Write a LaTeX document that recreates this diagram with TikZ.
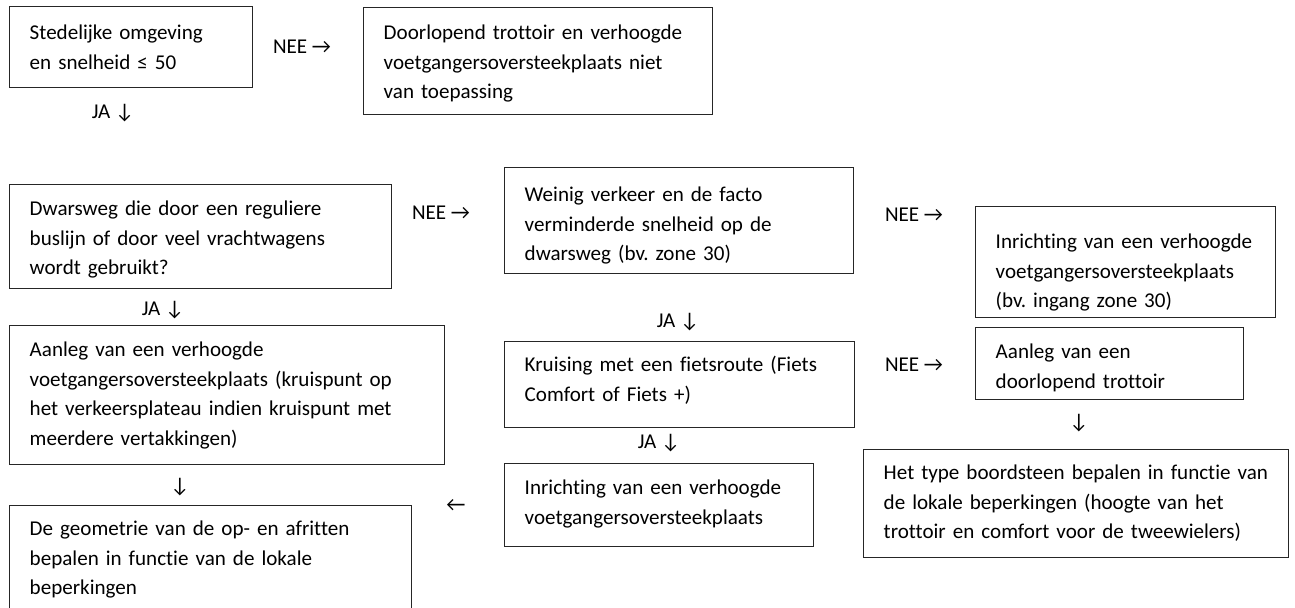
\documentclass[tikz,border=0pt]{standalone}
\usepackage{fontspec}
\setmainfont{Carlito}[Ligatures=NoCommon]
\frenchspacing
\begin{document}
\begin{tikzpicture}
    [
    x=0.75pt, y=-0.75pt,
    box/.style={draw=black!85,line width=1.1pt,anchor=north west,align=left,inner xsep=15pt,inner ysep=0pt,font=\fontsize{15.8}{22.1}\selectfont},
    lbl/.style={inner sep=0pt,font=\fontsize{15.8}{22.1}\selectfont}
    ]
    \clip (0,0) rectangle (1295,607);
    \node (stad) at (9,6) [box,text width=152.25pt,text height=24.75pt,text depth=36pt] {Stedelijke omgeving\\en snelheid ≤ 50};
    \node (niet) at (363,7) [box,text width=231.75pt,text height=24pt,text depth=56.25pt] {Doorlopend trottoir en verhoogde\\voetgangersoversteekplaats niet\\van toepassing};
    \node (dwars) at (9,184) [box,text width=256.5pt,text height=23.25pt,text depth=54.75pt] {Dwarsweg die door een reguliere\\buslijn of door veel vrachtwagens\\wordt gebruikt?};
    \node (weinig) at (504,167) [box,text width=231.75pt,text height=25.5pt,text depth=54pt] {Weinig verkeer en de facto\\verminderde snelheid op de\\dwarsweg (bv. zone 30)};
    \node (zone) at (975,206) [box,text width=195pt,text height=31.5pt,text depth=51.75pt] {Inrichting van een verhoogde\\voetgangersoversteekplaats\\(bv. ingang zone 30)};
    \node (plateau) at (9,325) [box,text width=296.25pt,text height=23.25pt,text depth=81pt] {Aanleg van een verhoogde\\voetgangersoversteekplaats (kruispunt op\\het verkeersplateau indien kruispunt met\\meerdere vertakkingen)};
    \node (fiets) at (504,341) [box,text width=232.5pt,text height=22.5pt,text depth=42pt] {Kruising met een fietsroute (Fiets\\Comfort of Fiets +)};
    \node (trottoir) at (975,327) [box,text width=171pt,text height=23.25pt,text depth=30.75pt] {Aanleg van een\\doorlopend trottoir};
    \node (verhoogd) at (504,463) [box,text width=201.75pt,text height=23.25pt,text depth=39pt] {Inrichting van een verhoogde\\voetgangersoversteekplaats};
    \node (boord) at (863,449) [box,text width=288.75pt,text height=22.5pt,text depth=58.5pt] {Het type boordsteen bepalen in functie van\\de lokale beperkingen (hoogte van het\\trottoir en comfort voor de tweewielers)};
    \node (afrit) at (9,505) [box,text width=271.5pt,text height=22.5pt,text depth=67.5pt] {De geometrie van de op- en afritten\\bepalen in functie van de lokale\\beperkingen};

    \node (nee1) at (302,47) [lbl] {NEE →};
    \node (ja1) at (113,113) [lbl] {JA ↓};
    \node (nee2) at (441,213) [lbl] {NEE →};
    \node (nee3) at (914,215) [lbl] {NEE →};
    \node (ja2) at (163,310) [lbl] {JA ↓};
    \node (ja3) at (678,322) [lbl] {JA ↓};
    \node (nee4) at (914,365) [lbl] {NEE →};
    \node (ja4) at (659,443) [lbl] {JA ↓};
    \node (pijl1) at (1079,423) [lbl] {↓};
    \node (pijl2) at (180,487) [lbl] {↓};
    \node (pijl3) at (456,505) [lbl] {←};
\end{tikzpicture}
\end{document}
